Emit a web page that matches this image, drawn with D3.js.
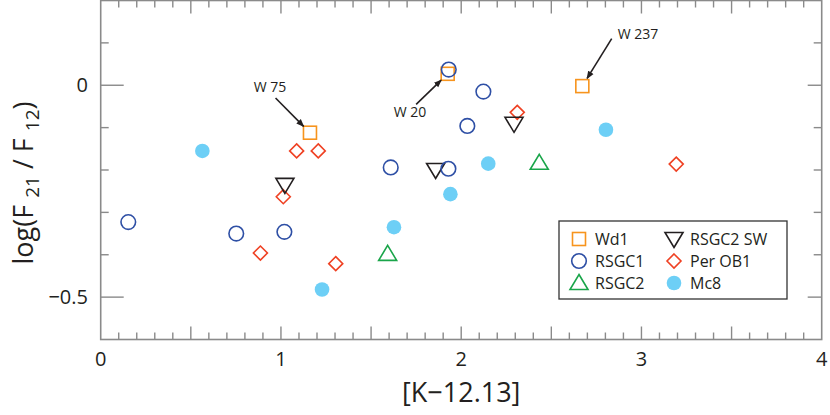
<!DOCTYPE html>
<html><head><meta charset="utf-8">
<script src="https://cdn.jsdelivr.net/npm/d3@7"></script>
<style>body{margin:0;background:#fff;} svg{display:block;font-family:"Open Sans",sans-serif;}</style>
</head><body>
<svg id="c" width="830" height="415"></svg>
<script>
// Data
const xTickLabels = [0, 1, 2, 3, 4];
const yTickLabels = [0, -0.5];
const seriesNames = ["Wd1", "RSGC1", "RSGC2", "RSGC2 SW", "Per OB1", "Mc8"];
const wd1 = [[1.161, -0.112], [1.925, 0.027], [2.672, -0.002]];
const rsgc1 = [[1.609, -0.194], [1.931, 0.037], [2.123, -0.015], [2.034, -0.096], [1.929, -0.197], [0.153, -0.323], [0.752, -0.350], [1.019, -0.346]];
const rsgc2 = [[2.433, -0.183], [1.592, -0.398]];
const rsgc2sw = [[1.022, -0.235], [2.293, -0.091], [1.858, -0.200]];
const perob1 = [[1.087, -0.155], [1.207, -0.155], [1.013, -0.263], [2.311, -0.064], [3.193, -0.186], [0.886, -0.396], [1.304, -0.421]];
const mc8 = [[0.564, -0.155], [2.803, -0.105], [2.150, -0.185], [1.940, -0.257], [1.627, -0.335], [1.228, -0.482]];
const annotations = [
  {label: "W 75", target: [1.161, -0.112], from: [0.97, -0.03]},
  {label: "W 20", target: [1.925, 0.027], from: [1.75, -0.045]},
  {label: "W 237", target: [2.672, -0.002], from: [2.835, 0.11]}
];

const svg = d3.select("#c");
const L = 100.7, R = 821.7, T = 0.5, B = 339.5;
const x = d3.scaleLinear().domain([0, 4]).range([L, R]);
const y = d3.scaleLinear().domain([-0.6, 0.2]).range([B, T]);
const axisCol = "#8a8a8a", textCol = "#231f20";

// frame
svg.append("rect").attr("x", L).attr("y", T).attr("width", R - L).attr("height", B - T)
  .attr("fill", "none").attr("stroke", axisCol).attr("stroke-width", 1.6);

// x ticks (inward) bottom & top
const xMinor = d3.range(0, 41).map(i => i / 10);
xMinor.forEach(v => {
  const major = Math.abs(v * 2 - Math.round(v * 2)) < 1e-6;
  const len = major ? 13 : 7;
  if (v <= 0 || v >= 4) return;
  svg.append("line").attr("x1", x(v)).attr("x2", x(v)).attr("y1", B).attr("y2", B - len).attr("stroke", axisCol).attr("stroke-width", 1.4);
  svg.append("line").attr("x1", x(v)).attr("x2", x(v)).attr("y1", T).attr("y2", T + len).attr("stroke", axisCol).attr("stroke-width", 1.4);
});
const yMinor = d3.range(-6, 3).map(i => i / 10);
yMinor.forEach(v => {
  if (v <= -0.6 || v >= 0.2) return;
  const major = Math.abs(v * 2 - Math.round(v * 2)) < 1e-6;
  svg.append("line").attr("x1", L).attr("x2", L + (major ? 23 : 8)).attr("y1", y(v)).attr("y2", y(v)).attr("stroke", axisCol).attr("stroke-width", 1.4);
  svg.append("line").attr("x1", R).attr("x2", R - (major ? 14 : 8)).attr("y1", y(v)).attr("y2", y(v)).attr("stroke", axisCol).attr("stroke-width", 1.4);
});

// tick labels
svg.selectAll(".xl").data(xTickLabels).enter().append("text")
  .attr("x", d => x(d)).attr("y", 366).attr("text-anchor", "middle")
  .attr("font-size", 20).attr("fill", textCol).text(d => d);
svg.selectAll(".yl").data(yTickLabels).enter().append("text")
  .attr("x", 88).attr("y", d => y(d) + 7).attr("text-anchor", "end")
  .attr("font-size", 20).attr("fill", textCol).text(d => d === 0 ? "0" : "\u22120.5");

// axis titles
svg.append("text").attr("x", x(2)).attr("y", 402).attr("text-anchor", "middle")
  .attr("font-size", 27).attr("fill", textCol).text("[K\u221212.13]");
const yt = svg.append("text").attr("transform", "translate(33,183) rotate(-90)")
  .attr("text-anchor", "middle").attr("font-size", 27).attr("fill", textCol);
yt.append("tspan").text("log(F ");
yt.append("tspan").attr("font-size", 19).attr("dy", 6).text("21");
yt.append("tspan").attr("dy", -6).text(" / F ");
yt.append("tspan").attr("font-size", 19).attr("dy", 6).text("12");
yt.append("tspan").attr("dy", -6).text(")");

// symbols
const styles = {
  "Wd1": {type: "square", color: "#f7941d"},
  "RSGC1": {type: "circle", color: "#2e4fa5"},
  "RSGC2": {type: "tri", color: "#1aa54a"},
  "RSGC2 SW": {type: "tridown", color: "#231f20"},
  "Per OB1": {type: "diamond", color: "#ef4123"},
  "Mc8": {type: "dot", color: "#6dcff6"}
};
function drawSym(g, type, color, cx, cy) {
  if (type === "square") g.append("rect").attr("x", cx - 6.5).attr("y", cy - 6.5).attr("width", 13).attr("height", 13).attr("fill", "none").attr("stroke", color).attr("stroke-width", 1.6);
  else if (type === "circle") g.append("circle").attr("cx", cx).attr("cy", cy).attr("r", 7.3).attr("fill", "none").attr("stroke", color).attr("stroke-width", 1.6);
  else if (type === "dot") g.append("circle").attr("cx", cx).attr("cy", cy).attr("r", 7.3).attr("fill", color);
  else if (type === "diamond") g.append("path").attr("d", `M${cx},${cy - 7}L${cx + 7},${cy}L${cx},${cy + 7}L${cx - 7},${cy}Z`).attr("fill", "none").attr("stroke", color).attr("stroke-width", 1.6);
  else if (type === "tri") g.append("path").attr("d", `M${cx},${cy - 8.5}L${cx + 9},${cy + 6.5}L${cx - 9},${cy + 6.5}Z`).attr("fill", "none").attr("stroke", color).attr("stroke-width", 1.6);
  else if (type === "tridown") g.append("path").attr("d", `M${cx},${cy + 8.5}L${cx + 9},${cy - 6.5}L${cx - 9},${cy - 6.5}Z`).attr("fill", "none").attr("stroke", color).attr("stroke-width", 1.6);
}
const seriesData = {"Wd1": wd1, "RSGC1": rsgc1, "RSGC2": rsgc2, "RSGC2 SW": rsgc2sw, "Per OB1": perob1, "Mc8": mc8};
const order = ["Mc8", "Per OB1", "RSGC2", "RSGC2 SW", "Wd1", "RSGC1"];
const pg = svg.append("g");
order.forEach(n => seriesData[n].forEach(d => drawSym(pg, styles[n].type, styles[n].color, x(d[0]), y(d[1]))));

// annotations
svg.append("defs").append("marker").attr("id", "ah").attr("viewBox", "0 0 10 10").attr("refX", 9).attr("refY", 5)
  .attr("markerWidth", 8).attr("markerHeight", 8).attr("orient", "auto").attr("markerUnits", "userSpaceOnUse")
  .append("path").attr("d", "M0,1L10,5L0,9Z").attr("fill", textCol);
const annPos = {"W 75": [270, 92, "middle"], "W 20": [410, 117, "middle"], "W 237": [638, 39, "middle"]};
annotations.forEach(a => {
  const tx = x(a.target[0]), ty = y(a.target[1]);
  const fx = x(a.from[0]), fy = y(a.from[1]);
  let x2 = tx, y2 = ty;
  const dx = tx - fx, dy = ty - fy, dl = Math.hypot(dx, dy);
  x2 = tx - dx / dl * 9; y2 = ty - dy / dl * 9;
  svg.append("line").attr("x1", fx).attr("y1", fy).attr("x2", x2).attr("y2", y2)
    .attr("stroke", textCol).attr("stroke-width", 1.6).attr("marker-end", "url(#ah)");
  const p = annPos[a.label];
  svg.append("text").attr("x", p[0]).attr("y", p[1]).attr("text-anchor", p[2]).attr("font-size", 14).attr("fill", textCol).text(a.label);
});

// legend
const lg = svg.append("g");
lg.append("rect").attr("x", 559).attr("y", 221).attr("width", 228).attr("height", 78).attr("fill", "#fff").attr("stroke", "#333").attr("stroke-width", 1.3);
seriesNames.forEach((n, i) => {
  const col = Math.floor(i / 3), row = i % 3;
  const sx = col === 0 ? 579 : 674, sy = 239 + row * 22;
  drawSym(lg, styles[n].type, styles[n].color, sx, sy);
  lg.append("text").attr("x", sx + 16).attr("y", sy + 6).attr("font-size", 16).attr("fill", textCol).text(n);
});
</script>
</body></html>
